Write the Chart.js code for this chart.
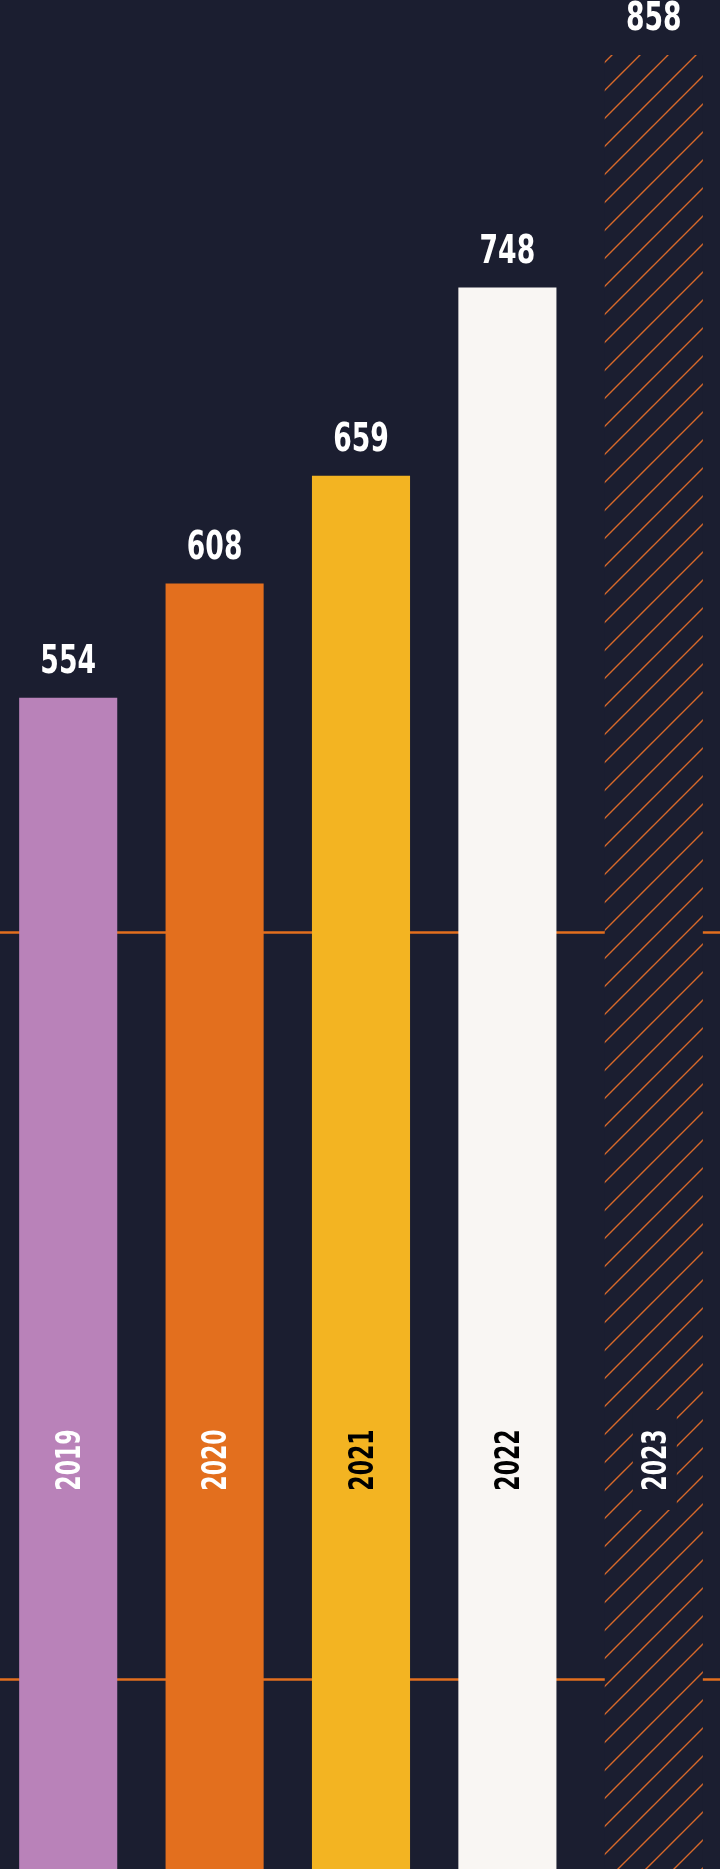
<!DOCTYPE html>
<html>
<head>
<meta charset="utf-8">
<script src="https://cdn.jsdelivr.net/npm/chart.js@4/dist/chart.umd.min.js"></script>
<style>
  html, body { margin: 0; padding: 0; background: #1b1e30; overflow: hidden; }
  #wrap { position: absolute; left: -5px; top: 0; width: 732px; height: 1869px; }
</style>
</head>
<body>
<div id="wrap"><canvas id="growthChart" width="732" height="1869"></canvas></div>
<script>
// chart data
const years = ["2019", "2020", "2021", "2022", "2023"];
const totals = [554, 608, 659, 748, 858];
const refLines = [90, 443];

const BG = "#1b1e30";
const ORANGE = "#e36f1e";

(function () {
  const canvas = document.getElementById("growthChart");
  const ctx = canvas.getContext("2d");

  // diagonal hatch for the 2023 bar
  function makeHatch() {
    const size = 28;
    const tile = document.createElement("canvas");
    tile.width = size;
    tile.height = size;
    const t = tile.getContext("2d");
    t.fillStyle = BG;
    t.fillRect(0, 0, size, size);
    t.strokeStyle = "#d7692a";
    t.lineWidth = 1.4;
    t.beginPath();
    t.moveTo(-2, size + 2);
    t.lineTo(size + 2, -2);
    t.moveTo(-2, 2);
    t.lineTo(2, -2);
    t.moveTo(size - 2, size + 2);
    t.lineTo(size + 2, size - 2);
    t.stroke();
    return ctx.createPattern(tile, "repeat");
  }

  const barColors = ["#b982b9", ORANGE, "#f3b422", "#f9f6f3", makeHatch()];
  const yearColors = ["#ffffff", "#ffffff", "#000000", "#000000", "#ffffff"];

  // narrow look: condensed face squeezed a bit more
  const FONT = '"Liberation Sans Narrow", "DejaVu Sans Condensed", sans-serif';

  const refLinePlugin = {
    id: "refLines",
    beforeDatasetsDraw(chart) {
      const y = chart.scales.y;
      const c = chart.ctx;
      c.save();
      c.strokeStyle = ORANGE;
      c.lineWidth = 2.5;
      refLines.forEach((v) => {
        const py = Math.round(y.getPixelForValue(v)) + 0.5;
        c.beginPath();
        c.moveTo(0, py);
        c.lineTo(chart.width, py);
        c.stroke();
      });
      c.restore();
    }
  };

  const labelPlugin = {
    id: "barLabels",
    afterDatasetsDraw(chart) {
      const c = chart.ctx;
      const meta = chart.getDatasetMeta(0);
      meta.data.forEach((bar, i) => {
        // value above bar
        c.save();
        c.translate(bar.x, bar.y - 25);
        c.scale(0.76, 1);
        c.fillStyle = "#ffffff";
        c.font = "bold 39px " + FONT;
        c.textAlign = "center";
        c.textBaseline = "alphabetic";
        c.fillText(String(totals[i]), 0, 0);
        c.restore();

        // rotated year inside bar
        c.save();
        c.translate(bar.x + 2, 1460);
        c.rotate(-Math.PI / 2);
        if (i === years.length - 1) {
          c.fillStyle = BG;
          c.fillRect(-50, -23, 100, 44);
        }
        c.scale(0.72, 1);
        c.font = "bold 34px " + FONT;
        c.textAlign = "center";
        c.textBaseline = "middle";
        c.fillStyle = yearColors[i];
        c.fillText(years[i], 0, 1);
        c.restore();
      });
    }
  };

  new Chart(ctx, {
    type: "bar",
    data: {
      labels: years,
      datasets: [
        {
          data: totals,
          backgroundColor: barColors,
          borderWidth: 0,
          categoryPercentage: 1,
          barPercentage: 0.67
        }
      ]
    },
    options: {
      responsive: false,
      animation: false,
      layout: { padding: 0 },
      plugins: {
        legend: { display: false },
        tooltip: { enabled: false }
      },
      scales: {
        x: { display: false },
        y: { display: false, min: 0, max: 884 }
      }
    },
    plugins: [refLinePlugin, labelPlugin]
  });
})();
</script>
</body>
</html>
